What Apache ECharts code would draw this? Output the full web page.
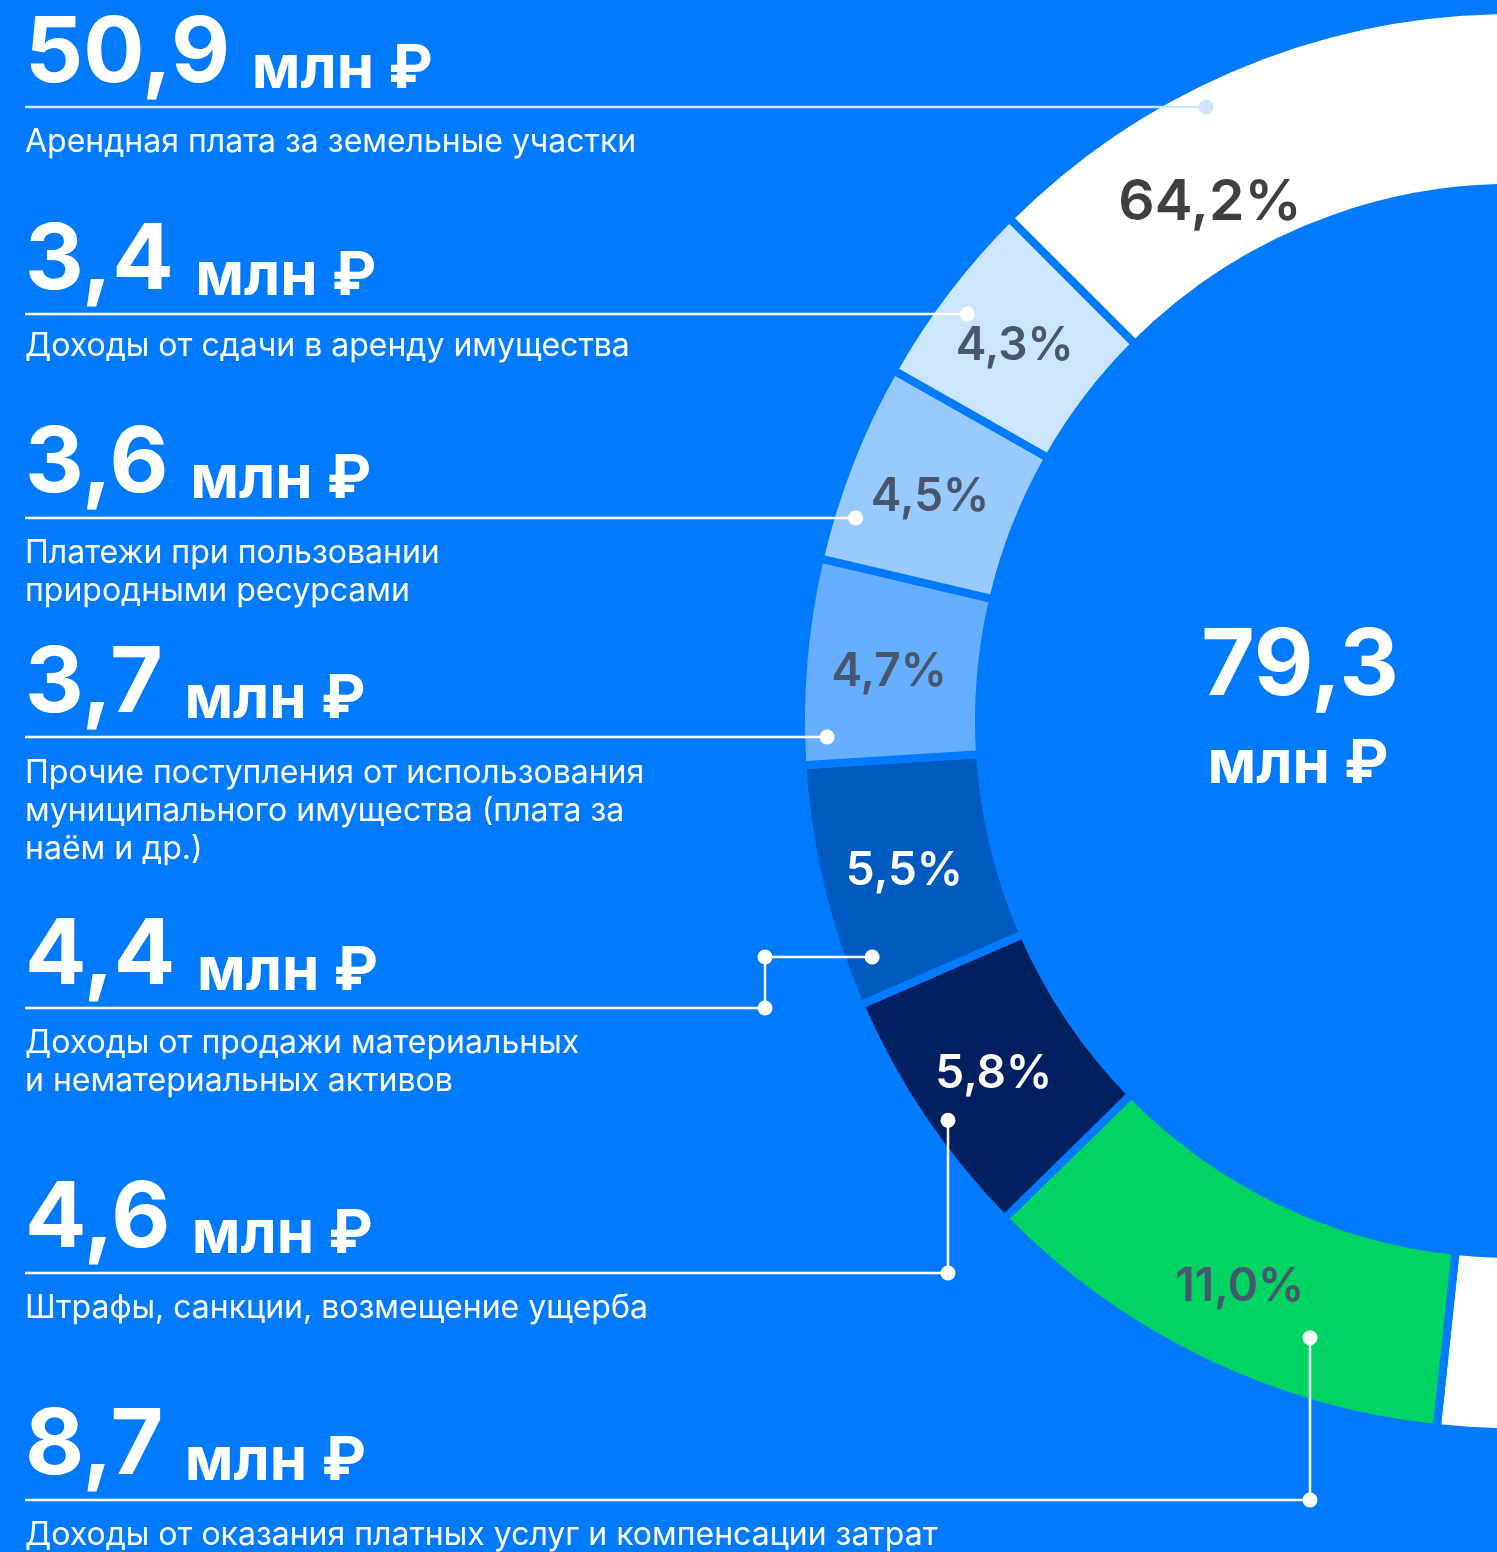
<!DOCTYPE html>
<html lang="ru">
<head>
  <meta charset="UTF-8">
  <title>Неналоговые доходы</title>
  <script src="https://cdn.jsdelivr.net/npm/echarts@6.0.0/dist/echarts.min.js"></script>
  <style>
    * { margin: 0; padding: 0; box-sizing: border-box; }
    html, body { width: 1497px; height: 1552px; overflow: hidden; background: #007BFF; }
    #chart { width: 1497px; height: 1552px; }
  </style>
</head>
<body>
  <div id="chart"></div>
  <script>
    // Данные (млн ₽), по часовой стрелке от самого крупного сектора
    const categories = [
      'Арендная плата за земельные участки',
      'Доходы от оказания платных услуг и компенсации затрат',
      'Штрафы, санкции, возмещение ущерба',
      'Доходы от продажи материальных\nи нематериальных активов',
      'Прочие поступления от использования\nмуниципального имущества (плата за\nнаём и др.)',
      'Платежи при пользовании\nприродными ресурсами',
      'Доходы от сдачи в аренду имущества'
    ];
    const values = [50.9, 8.7, 4.6, 4.4, 3.7, 3.6, 3.4];
    const colors = ['#FFFFFF', '#00D462', '#002060', '#005BC0', '#66AFFF', '#99CAFF', '#CCE5FF'];
    const labelColors = ['#404040', '#48566E', '#FFFFFF', '#FFFFFF', '#48566E', '#48566E', '#48566E'];
    // строки слева сверху вниз (индексы в values)
    const rowOrder = [0, 6, 5, 4, 3, 2, 1];
    const unit = 'млн ₽';

    // геометрия кольца
    const BG = '#007BFF';
    const CX = 1512, CY = 721;
    const R_IN = 537, R_OUT = 707, GAP = 8;
    const START_ANGLE = 135;
    const FONT = 'Inter, "Noto Sans", "DejaVu Sans", sans-serif';

    // раскладка подписей слева: базовая линия заголовка, линия-выноска, центр первой строки описания
    const rows = [
      { head: 85,   lineY: 107,  desc: 142,  dotR: 686, lineColor: '#CFE4FF' },
      { head: 292,  lineY: 314,  desc: 346,  dotR: 680 },
      { head: 495,  lineY: 518,  desc: 553,  dotR: 687 },
      { head: 715,  lineY: 737,  desc: 773,  dotR: 685 },
      { head: 987,  lineY: 1008, desc: 1043, dotR: 682, elbowX: 765, dotY: 957 },
      { head: 1250, lineY: 1273, desc: 1308, dotR: 691, vertX: 948 },
      { head: 1477, lineY: 1500, desc: 1535, dotR: 649, vertX: 1310 }
    ];

    const total = values.reduce((a, b) => a + b, 0);
    const fmt = v => v.toFixed(1).replace('.', ',');

    const chart = echarts.init(document.getElementById('chart'), null, { renderer: 'canvas' });

    const graphics = [];
    const dot = (x, y, color) => ({
      type: 'circle', z: 110, silent: true,
      shape: { cx: x, cy: y, r: 7.5 },
      style: { fill: color }
    });
    const seg = (x1, y1, x2, y2, color) => ({
      type: 'line', z: 105, silent: true,
      shape: { x1, y1, x2, y2 },
      style: { stroke: color, lineWidth: 2.5 }
    });

    rows.forEach((row, i) => {
      const idx = rowOrder[i];
      const color = row.lineColor || '#FFFFFF';

      // заголовок «значение млн ₽»
      graphics.push({
        type: 'text', z: 110, silent: true,
        x: 25, y: row.head - 77,
        style: {
          text: '{n|' + fmt(values[idx]) + ' }{u|' + unit + '}',
          fill: '#FFFFFF',
          verticalAlign: 'top',
          rich: {
            n: { fontFamily: FONT, fontSize: 91, fontWeight: 'bold', lineHeight: 92, verticalAlign: 'bottom', fill: '#FFFFFF' },
            u: { fontFamily: FONT, fontSize: 60, fontWeight: 'bold', lineHeight: 72, verticalAlign: 'bottom', fill: '#FFFFFF' }
          }
        }
      });

      // описание
      graphics.push({
        type: 'text', z: 110, silent: true,
        x: 25, y: row.desc - 19,
        style: {
          text: categories[idx],
          fill: '#FFFFFF',
          fontFamily: FONT, fontSize: 32, lineHeight: 38,
          verticalAlign: 'top'
        }
      });

      // выноска к сектору
      if (row.vertX != null) {
        const dy = Math.sqrt(row.dotR * row.dotR - (CX - row.vertX) * (CX - row.vertX));
        const dotY = CY + dy;
        graphics.push(seg(25, row.lineY, row.vertX, row.lineY, color));
        graphics.push(seg(row.vertX, row.lineY, row.vertX, dotY, color));
        graphics.push(dot(row.vertX, row.lineY, color));
        graphics.push(dot(row.vertX, dotY, color));
      } else if (row.elbowX != null) {
        const dotX = CX - Math.sqrt(row.dotR * row.dotR - (row.dotY - CY) * (row.dotY - CY));
        graphics.push(seg(25, row.lineY, row.elbowX, row.lineY, color));
        graphics.push(seg(row.elbowX, row.lineY, row.elbowX, row.dotY, color));
        graphics.push(seg(row.elbowX, row.dotY, dotX, row.dotY, color));
        graphics.push(dot(row.elbowX, row.lineY, color));
        graphics.push(dot(row.elbowX, row.dotY, color));
        graphics.push(dot(dotX, row.dotY, color));
      } else {
        const dotX = CX - Math.sqrt(row.dotR * row.dotR - (row.lineY - CY) * (row.lineY - CY));
        graphics.push(seg(25, row.lineY, dotX, row.lineY, color));
        graphics.push(dot(dotX, row.lineY, color));
      }
    });

    // итог в центре
    graphics.push({
      type: 'text', z: 110, silent: true,
      x: 1300, y: 667,
      style: { text: fmt(total), fill: '#FFFFFF', fontFamily: FONT, fontSize: 92, fontWeight: 'bold', align: 'center', verticalAlign: 'middle' }
    });
    graphics.push({
      type: 'text', z: 110, silent: true,
      x: 1298, y: 765,
      style: { text: unit, fill: '#FFFFFF', fontFamily: FONT, fontSize: 60, fontWeight: 'bold', align: 'center', verticalAlign: 'middle' }
    });

    // подпись крупного сектора ставится в видимой части кольца
    const BIG_LABEL_ANGLE = 120, BIG_LABEL_R = 604;

    const option = {
      backgroundColor: BG,
      animation: false,
      graphic: { elements: graphics },
      series: [{
        type: 'pie',
        center: [CX, CY],
        radius: [R_IN - GAP / 2, R_OUT + GAP / 2],
        startAngle: START_ANGLE,
        clockwise: true,
        silent: true,
        avoidLabelOverlap: false,
        itemStyle: { borderColor: BG, borderWidth: GAP, borderRadius: 0 },
        label: {
          show: true,
          position: 'inside',
          fontFamily: FONT,
          fontSize: 46,
          fontWeight: 600,
          formatter: p => fmt(p.value / total * 100) + '%'
        },
        labelLine: { show: false },
        labelLayout: function (p) {
          if (p.dataIndex !== 0) return { dy: 4 };
          const a = BIG_LABEL_ANGLE * Math.PI / 180;
          return {
            x: CX + BIG_LABEL_R * Math.cos(a),
            y: CY - BIG_LABEL_R * Math.sin(a) + 5,
            align: 'center',
            verticalAlign: 'middle'
          };
        },
        data: values.map((v, i) => ({
          value: v,
          name: categories[i],
          itemStyle: { color: colors[i] },
          label: { color: labelColors[i], fontSize: i === 0 ? 57 : 46 }
        }))
      }]
    };

    chart.setOption(option);
  </script>
</body>
</html>
